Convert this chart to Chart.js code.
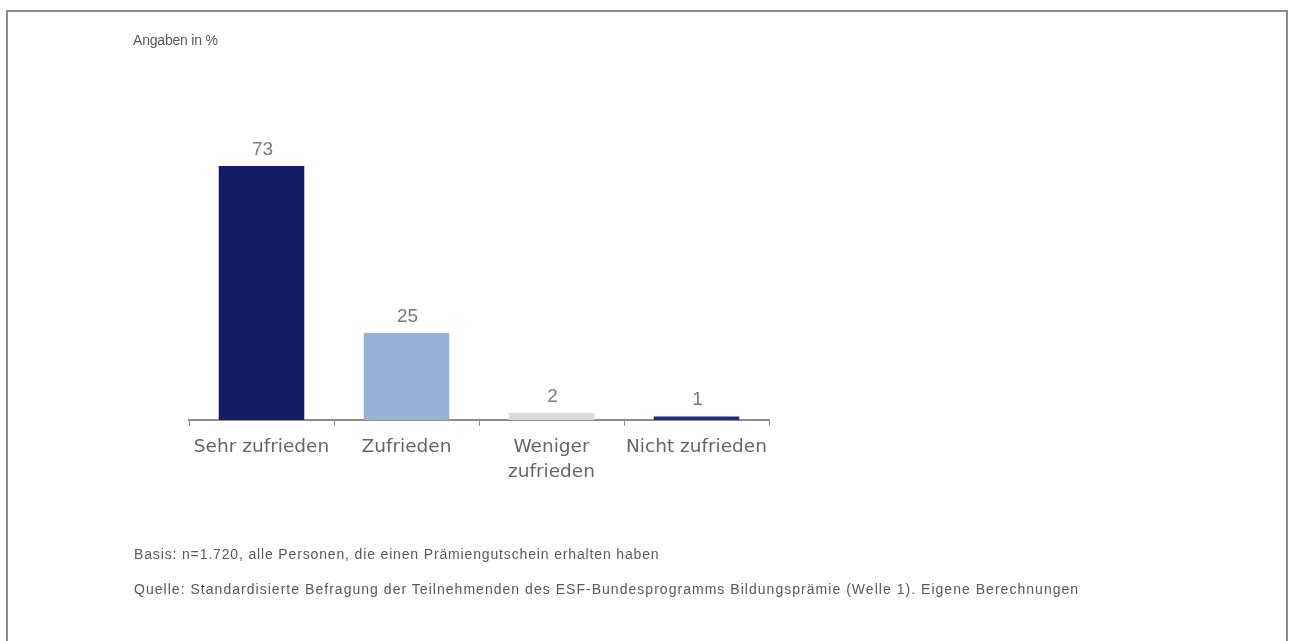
<!DOCTYPE html>
<html lang="de">
<head>
<meta charset="utf-8">
<title>Zufriedenheit Bildungsprämie</title>
<script src="https://cdn.jsdelivr.net/npm/chart.js@4/dist/chart.umd.min.js"></script>
<style>
  html, body { margin: 0; padding: 0; background: #fff; width: 1292px; height: 641px; overflow: hidden; }
  #rahmen { position: absolute; left: 6px; top: 10px; width: 1278px; height: 700px; border: 2px solid #8a8a8a; }
  #wrap { position: absolute; left: 0; top: 0; width: 1292px; height: 641px; }
  .txt { position: absolute; font-family: "Liberation Sans", Arial, sans-serif; color: #595959; white-space: nowrap; }
  #einheit { left: 133px; top: 32px; font-size: 14px; letter-spacing: -0.2px; }
  #basis { left: 134px; top: 546px; font-size: 14px; letter-spacing: 0.85px; }
  #quelle { left: 134px; top: 581px; font-size: 14px; letter-spacing: 1.03px; }
</style>
</head>
<body>
<div id="rahmen"></div>
<div id="wrap"><canvas id="chart" width="1292" height="641"></canvas></div>
<div class="txt" id="einheit">Angaben in %</div>
<div class="txt" id="basis">Basis: n=1.720, alle Personen, die einen Prämiengutschein erhalten haben</div>
<div class="txt" id="quelle">Quelle: Standardisierte Befragung der Teilnehmenden des ESF-Bundesprogramms Bildungsprämie (Welle 1). Eigene Berechnungen</div>
<script>
// Daten
const kategorien = ['Sehr zufrieden', 'Zufrieden', ['Weniger', 'zufrieden'], 'Nicht zufrieden'];
const anteile = [73, 25, 2, 1];
const farben = ['#131b66', '#95b3d7', '#d9d9d9', '#1f2a7a'];

// Werte über den Balken schreiben
const wertLabels = {
  id: 'wertLabels',
  afterDatasetsDraw(chart) {
    const ctx = chart.ctx;
    const meta = chart.getDatasetMeta(0);
    ctx.save();
    ctx.font = '19px "Liberation Sans", Arial, sans-serif';
    ctx.fillStyle = '#7a7a7a';
    ctx.textAlign = 'center';
    ctx.textBaseline = 'bottom';
    meta.data.forEach((bar, i) => {
      ctx.fillText(String(anteile[i]), bar.x + 1, bar.y - 7);
    });
    ctx.restore();
  }
};

new Chart(document.getElementById('chart'), {
  type: 'bar',
  data: {
    labels: kategorien,
    datasets: [{
      data: anteile,
      backgroundColor: farben,
      borderWidth: 0,
      categoryPercentage: 1,
      barPercentage: 0.59
    }]
  },
  options: {
    responsive: false,
    animation: false,
    events: [],
    layout: { padding: { left: 189, right: 523, top: 72, bottom: 0 } },
    plugins: { legend: { display: false }, tooltip: { enabled: false } },
    scales: {
      x: {
        afterFit: s => { s.height = 221; },
        border: { display: true, color: '#8c8c8c', width: 2 },
        grid: { display: true, offset: true, drawOnChartArea: false, drawTicks: true, tickLength: 6, color: '#8c8c8c', lineWidth: 1 },
        ticks: {
          color: '#666',
          padding: 9,
          maxRotation: 0,
          autoSkip: false,
          font: { family: '"DejaVu Sans", Verdana, sans-serif', size: 18.5, lineHeight: 1.35 }
        }
      },
      y: {
        display: false,
        min: 0,
        max: 100
      }
    }
  },
  plugins: [wertLabels]
});
</script>
</body>
</html>
